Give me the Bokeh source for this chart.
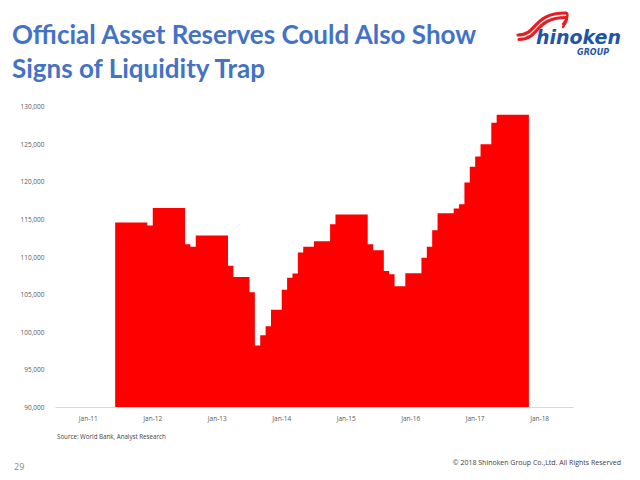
from bokeh.plotting import figure
from bokeh.layouts import column
from bokeh.models import Range1d, FixedTicker, NumeralTickFormatter, Div
from bokeh.embed import file_html
from bokeh.resources import INLINE

# ---- data ----
title_lines = ["Official Asset Reserves Could Also Show", "Signs of Liquidity Trap"]
source_text = "Source: World Bank, Analyst Research"
footer_text = "\u00a9 2018 Shinoken Group Co.,Ltd. All Rights Reserved"
page_number = "29"
logo_word, logo_sub = "hinoken", "GROUP"

x_tick_labels = ["Jan-11", "Jan-12", "Jan-13", "Jan-14", "Jan-15", "Jan-16", "Jan-17", "Jan-18"]
y_ticks = [90000, 95000, 100000, 105000, 110000, 115000, 120000, 125000, 130000]

first_year, first_month = 2011, 6   # first monthly value: Jun-2011
reserves = [
    114600, 114600, 114600, 114600, 114600, 114600,   # Jun-11 .. Nov-11
    114200,                                           # Dec-11
    116500, 116500, 116500, 116500, 116500, 116500,   # Jan-12 .. Jun-12
    111700, 111350,                                   # Jul-12, Aug-12
    112850, 112850, 112850, 112850, 112850, 112850,   # Sep-12 .. Feb-13
    108850,                                           # Mar-13
    107350, 107350, 107350,                           # Apr-13 .. Jun-13
    105300, 98250, 99600, 100800,                     # Jul-13 .. Oct-13
    103000, 103000,                                   # Nov-13, Dec-13
    105650, 107250, 107800, 110600,                   # Jan-14 .. Apr-14
    111350, 111350,                                   # May-14, Jun-14
    112100, 112100, 112100,                           # Jul-14 .. Sep-14
    114350,                                           # Oct-14
    115650, 115650, 115650, 115650, 115650, 115650,   # Nov-14 .. Apr-15
    111700, 110900, 110900, 108150, 107700,           # May-15 .. Sep-15
    106100, 106100,                                   # Oct-15, Nov-15
    107850, 107850, 107850,                           # Dec-15 .. Feb-16
    109900, 111350, 113550,                           # Mar-16 .. May-16
    115800, 115800, 115800,                           # Jun-16 .. Aug-16
    116450, 117000, 119900, 122000, 123350,           # Sep-16 .. Jan-17
    125000, 125000, 127850,                           # Feb-17 .. Apr-17
    128900, 128900, 128900, 128900, 128900, 128900,   # May-17 .. Oct-17
]

# ---- derived positions (months since Jan-11) ----
start_idx = (first_year - 2011) * 12 + (first_month - 1)
edges = [start_idx + k for k in range(len(reserves) + 1)]
tops = reserves + [reserves[-1]]
base = [y_ticks[0]] * len(edges)
tick_pos = [12 * i for i in range(len(x_tick_labels))]

W = 640
HEAD_H, CHART_H, FOOT_H = 100, 328, 52
FL, FR = 55, 573          # frame left/right on the page
FT, FB = 106, 407         # frame top/bottom on the page


def txt(x, y, s, font, size, color, weight="normal", style="normal", anchor="start"):
    css = (f"font-family:'{font}';font-size:{size}px;font-weight:{weight};"
           f"font-style:{style};fill:{color};")
    return f'<text x="{x}" y="{y}" text-anchor="{anchor}" style="{css}">{s}</text>'


# ---- header (title + logo) ----
head_svg = (
    f'<svg xmlns="http://www.w3.org/2000/svg" width="{W}" height="{HEAD_H}" style="display:block">'
    + txt(12, 44, title_lines[0], "Lato", 26, "#4472C4", weight="bold")
    + txt(12, 78, title_lines[1], "Lato", 26, "#4472C4", weight="bold")
    + '<g fill="none" stroke="#E31E24" stroke-linecap="round">'
      '<path d="M518,35 C538,35 532,13 566,13" stroke-width="3.2"/>'
      '<path d="M519,39.5 C540,39.5 534,17.5 566,17.5" stroke-width="3.2"/>'
      '<path d="M566,13 C569,14 567,20 563,24" stroke-width="2.4"/>'
      '<path d="M566,17.5 C568,18.5 566,23 563,27" stroke-width="2.4"/>'
      '</g>'
    + txt(536, 44, logo_word, "DejaVu Sans", 19, "#1F55A5", weight="bold", style="italic")
    + txt(609, 55, logo_sub, "DejaVu Sans", 8, "#1F55A5", weight="bold", style="italic", anchor="end")
    + '</svg>'
)
head = Div(text=head_svg, width=W, height=HEAD_H, margin=(0, 0, 0, 0))

# ---- chart ----
p = figure(width=W, height=CHART_H, output_backend="svg", toolbar_location=None,
           x_range=Range1d(-6.1, 90.3), y_range=Range1d(y_ticks[0], y_ticks[-1]),
           min_border_left=FL, min_border_right=W - FR,
           min_border_top=FT - HEAD_H, min_border_bottom=HEAD_H + CHART_H - FB,
           margin=(0, 0, 0, 0))
p.outline_line_color = None
p.background_fill_color = "white"
p.border_fill_color = "white"
p.xgrid.visible = False
p.ygrid.visible = False

p.varea_step(x=edges, y1=base, y2=tops, step_mode="after", fill_color="#FF0000")

xa = p.xaxis[0]
xa.ticker = FixedTicker(ticks=tick_pos)
xa.major_label_overrides = {t: l for t, l in zip(tick_pos, x_tick_labels)}
xa.axis_line_color = "#D9D9D9"
xa.axis_line_width = 1
xa.major_tick_line_color = None
xa.minor_tick_line_color = None
xa.major_label_text_font = "Open Sans"
xa.major_label_text_font_size = "6.5px"
xa.major_label_text_color = "#595959"
xa.major_label_standoff = 0

ya = p.yaxis[0]
ya.ticker = FixedTicker(ticks=y_ticks)
ya.formatter = NumeralTickFormatter(format="0,0")
ya.axis_line_color = None
ya.major_tick_line_color = None
ya.minor_tick_line_color = None
ya.major_label_text_font = "Open Sans"
ya.major_label_text_font_size = "6.5px"
ya.major_label_text_color = "#595959"
ya.major_label_standoff = 5

# ---- footer (source, page number, copyright) ----
top = HEAD_H + CHART_H
foot_svg = (
    f'<svg xmlns="http://www.w3.org/2000/svg" width="{W}" height="{FOOT_H}" style="display:block">'
    + txt(57, 439 - top, source_text, "Open Sans", 6.2, "#404040")
    + txt(14, 469.5 - top, page_number, "Open Sans", 9, "#8C8C8C")
    + txt(621, 464.5 - top, footer_text, "Open Sans", 7, "#404040", anchor="end")
    + '</svg>'
)
foot = Div(text=foot_svg, width=W, height=FOOT_H, margin=(0, 0, 0, 0))

page = column(head, p, foot, spacing=0)
open("out.html", "w").write(file_html(page, INLINE))
